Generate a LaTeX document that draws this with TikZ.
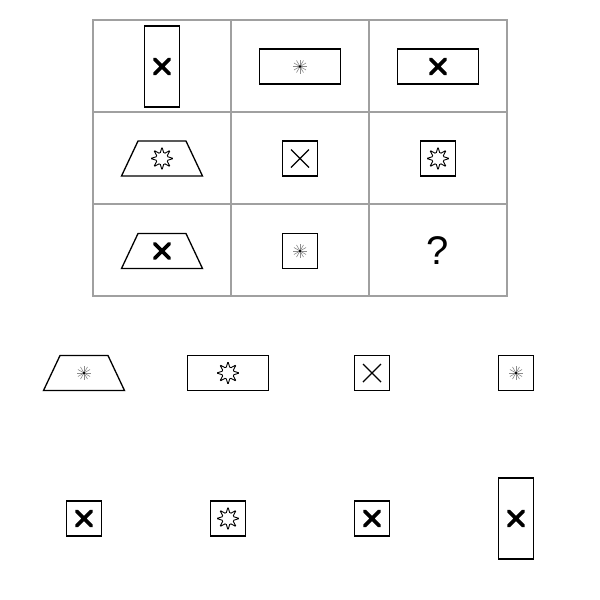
\documentclass[tikz,border=0pt]{standalone}
\usepackage{fontspec}
\setmainfont{Liberation Sans}
\definecolor{gridGrey}{HTML}{A0A0A0}
\definecolor{rayGrey}{HTML}{8C8C8C}
\usetikzlibrary{shapes.geometric}
\tikzset{
    grid line/.style={draw=gridGrey, line width=1.1pt},
    figure box/.style={rectangle, draw=black, line width=1.3pt, fill=white, inner sep=0pt},
    tall box/.style={figure box, minimum width=35pt, minimum height=81pt},
    wide box/.style={figure box, minimum width=81pt, minimum height=35pt},
    square box/.style={figure box, minimum width=35pt, minimum height=35pt},
    trap box/.style={figure box, trapezium, trapezium stretches=true, trapezium angle=71,
        inner sep=2pt, minimum width=81pt, minimum height=35pt},
    bold cross/.pic={\draw[line width=3.8pt, line cap=round] (-7.2,-7.2) -- (7.2,7.2) (-7.2,7.2) -- (7.2,-7.2);},
    thin cross/.pic={\draw[line width=1.4pt] (-9,-9) -- (9,9) (-9,9) -- (9,-9);},
    spark/.pic={
        \foreach \a in {0,30,...,330} {\draw[rayGrey, line width=0.6pt] (0,0) -- (\a:7);}
        \fill[black] (0,0) circle (1.4);},
    flower/.pic={\draw[line width=0.9pt, rounded corners=1.2pt]
        (0:11.5) \foreach \k in {1,...,15} {-- (\k*22.5:{ifthenelse(mod(\k,2)==0,11.5,5.2)})} -- cycle;},
}
\begin{document}
\begin{tikzpicture}[x=1pt, y=-1pt]
        % Frame
        \useasboundingbox (0,0) rectangle (600,600);
        \fill[white] (0,0) rectangle (600,600);

        % Matrix grid
        \draw[grid line] (93,20) rectangle (507,296);
        \foreach \gx in {231,369} {\draw[grid line] (\gx,20) -- (\gx,296);}
        \foreach \gy in {112,204} {\draw[grid line] (93,\gy) -- (507,\gy);}

        % Row 1
        \node[tall box] (cellA1) at (162,66.5) {};
        \node[wide box] (cellA2) at (300,66.5) {};
        \node[wide box] (cellA3) at (438,66.5) {};
        \pic at (cellA1) {bold cross};
        \pic at (cellA2) {spark};
        \pic at (cellA3) {bold cross};

        % Row 2
        \node[trap box] (cellB1) at (162,158.5) {};
        \node[square box] (cellB2) at (300,158.5) {};
        \node[square box] (cellB3) at (438,158.5) {};
        \pic at (cellB1) {flower};
        \pic at (cellB2) {thin cross};
        \pic at (cellB3) {flower};

        % Row 3
        \node[trap box] (cellC1) at (162,251) {};
        \node[square box] (cellC2) at (300,251) {};
        \pic at (cellC1) {bold cross};
        \pic at (cellC2) {spark};
        \node[inner sep=0pt, font=\fontsize{40}{40}\selectfont] (cellC3) at (438,251) {?};

        % Answer options, first row
        \node[trap box] (opt1) at (84,373) {};
        \node[wide box] (opt2) at (228,373) {};
        \node[square box] (opt3) at (372,373) {};
        \node[square box] (opt4) at (516,373) {};
        \pic at (opt1) {spark};
        \pic at (opt2) {flower};
        \pic at (opt3) {thin cross};
        \pic at (opt4) {spark};

        % Answer options, second row
        \node[square box] (opt5) at (84,518.5) {};
        \node[square box] (opt6) at (228,518.5) {};
        \node[square box] (opt7) at (372,518.5) {};
        \node[tall box] (opt8) at (516,518.5) {};
        \pic at (opt5) {bold cross};
        \pic at (opt6) {flower};
        \pic at (opt7) {bold cross};
        \pic at (opt8) {bold cross};
    \end{tikzpicture}
\end{document}
